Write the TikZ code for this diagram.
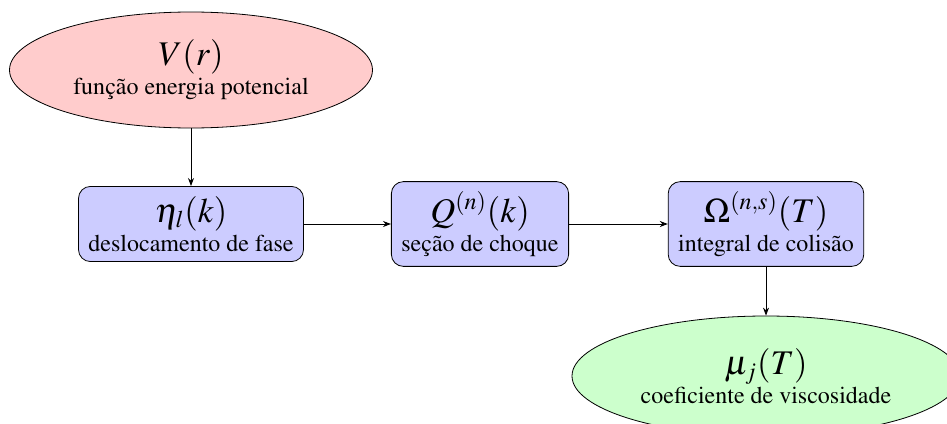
\documentclass[tikz,border=0pt]{standalone}
\usepackage[T1]{fontenc}
\usepackage{mathptmx}
\usetikzlibrary{shapes.geometric,arrows.meta}
\tikzset{
  base/.style={draw=black, align=center, font=\fontsize{12}{14.5}\selectfont, inner sep=5pt},
  ell/.style={base, ellipse, inner sep=0pt},
  boxnode/.style={base, rectangle, rounded corners=6pt, fill=blue!20},
  link/.style={draw, -{Stealth[length=4pt,width=3pt]}, thin}
}
\newcommand{\bigmath}[1]{{\fontsize{17.28}{21}\selectfont$#1$}}
\begin{document}
\begin{tikzpicture}[x=1pt,y=1pt]
\useasboundingbox (0,0) rectangle (473.5,-211.5);
\begin{scope}
\clip (0,0) rectangle (473.5,-211.5);
\node[ell, fill=red!20, minimum width=181.5pt, minimum height=58pt] (V) at (95.5,-35) {\bigmath{V(r)}\\fun\c{c}\~ao energia potencial};
\node[boxnode] (eta) at (95.5,-112) {\bigmath{\eta_l(k)}\\deslocamento de fase};
\node[boxnode] (Q) at (240,-112) {\bigmath{Q^{(n)}(k)}\\se\c{c}\~ao de choque};
\node[boxnode] (Om) at (383,-112) {\bigmath{\Omega^{(n,s)}(T)}\\integral de colis\~ao};
\node[ell, fill=green!20, minimum width=194pt, minimum height=60pt] (mu) at (383,-188) {\bigmath{\mu_j(T)}\\coeficiente de viscosidade};
\draw[link] (V) -- (eta);
\draw[link] (eta) -- (Q);
\draw[link] (Q) -- (Om);
\draw[link] (Om) -- (mu);
\end{scope}
\end{tikzpicture}
\end{document}
